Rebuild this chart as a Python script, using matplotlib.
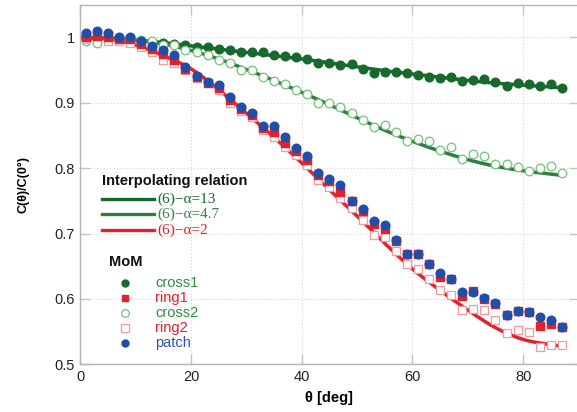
import numpy as np
import matplotlib
matplotlib.use("Agg")
import matplotlib.pyplot as plt

# ---- MoM samples: normalised capacitance vs incidence angle ----
theta = [1, 3, 5, 7, 9, 11, 13, 15, 17, 19, 21, 23, 25, 27, 29, 31, 33, 35, 37, 39, 41, 43,
         45, 47, 49, 51, 53, 55, 57, 59, 61, 63, 65, 67, 69, 71, 73, 75, 77, 79, 81, 83, 85, 87]

cross1 = [0.997, 0.998, 0.997, 0.998, 0.996, 0.995, 0.993, 0.992, 0.990, 0.989, 0.986, 0.986,
          0.982, 0.980, 0.977, 0.977, 0.978, 0.973, 0.971, 0.970, 0.967, 0.961, 0.961, 0.958,
          0.960, 0.952, 0.946, 0.947, 0.947, 0.945, 0.942, 0.940, 0.938, 0.939, 0.934, 0.935,
          0.937, 0.932, 0.926, 0.930, 0.928, 0.925, 0.928, 0.923]

cross2 = [0.994, 0.992, 0.996, 0.998, 0.998, 0.996, 0.994, 0.989, 0.989, 0.981, 0.977, 0.973,
          0.966, 0.961, 0.950, 0.950, 0.939, 0.934, 0.928, 0.920, 0.913, 0.900, 0.900, 0.893,
          0.885, 0.873, 0.863, 0.866, 0.855, 0.842, 0.845, 0.841, 0.828, 0.832, 0.814, 0.822,
          0.818, 0.806, 0.806, 0.802, 0.796, 0.800, 0.804, 0.792]

ring1 = [1.000, 1.002, 1.001, 0.998, 0.997, 0.990, 0.983, 0.975, 0.965, 0.952, 0.939, 0.930,
         0.922, 0.905, 0.891, 0.881, 0.861, 0.856, 0.838, 0.826, 0.813, 0.790, 0.780, 0.763,
         0.749, 0.734, 0.714, 0.707, 0.689, 0.668, 0.668, 0.653, 0.633, 0.630, 0.605, 0.612,
         0.600, 0.592, 0.575, 0.581, 0.580, 0.558, 0.561, 0.557]

ring2 = [0.998, 1.002, 0.994, 0.994, 0.991, 0.986, 0.978, 0.966, 0.961, 0.950, 0.938, 0.930,
         0.919, 0.899, 0.888, 0.879, 0.859, 0.848, 0.833, 0.820, 0.805, 0.782, 0.771, 0.754,
         0.739, 0.720, 0.698, 0.694, 0.674, 0.653, 0.645, 0.631, 0.613, 0.606, 0.583, 0.585,
         0.583, 0.567, 0.548, 0.552, 0.550, 0.527, 0.530, 0.529]

patch = [1.006, 1.010, 1.007, 1.001, 1.000, 0.994, 0.987, 0.980, 0.973, 0.954, 0.941, 0.932,
         0.927, 0.909, 0.894, 0.884, 0.865, 0.865, 0.847, 0.831, 0.818, 0.793, 0.784, 0.775,
         0.750, 0.737, 0.719, 0.713, 0.690, 0.668, 0.668, 0.653, 0.639, 0.631, 0.611, 0.611,
         0.601, 0.593, 0.576, 0.581, 0.580, 0.573, 0.568, 0.557]

# ---- interpolating relation (6) for three alpha values ----
theta_fit = [0, 5, 10, 15, 20, 25, 30, 35, 40, 45, 50, 55, 60, 65, 70, 75, 80, 85, 87]
fit_a13 = [1.000, 0.999, 0.996, 0.992, 0.987, 0.982, 0.977, 0.972, 0.967, 0.961, 0.955,
           0.949, 0.944, 0.939, 0.934, 0.930, 0.927, 0.924, 0.923]
fit_a47 = [1.000, 0.999, 0.996, 0.990, 0.980, 0.967, 0.951, 0.934, 0.916, 0.897, 0.877,
           0.858, 0.841, 0.826, 0.813, 0.803, 0.796, 0.791, 0.789]
fit_a2 = [1.000, 0.998, 0.988, 0.972, 0.952, 0.920, 0.884, 0.847, 0.808, 0.767, 0.727,
          0.685, 0.646, 0.613, 0.583, 0.556, 0.538, 0.530, 0.528]

fit_labels = ["(6)\u2212\u03b1=13", "(6)\u2212\u03b1=4.7", "(6)\u2212\u03b1=2"]
mom_labels = ["cross1", "ring1", "cross2", "ring2", "patch"]

x_ticks = [0, 20, 40, 60, 80]
y_ticks = [0.5, 0.6, 0.7, 0.8, 0.9, 1.0]
y_ticklabels = ["0.5", "0.6", "0.7", "0.8", "0.9", "1"]

DARK_GREEN = "#17692e"
MID_GREEN = "#2f7d43"
LIGHT_GREEN = "#72c278"
TXT_GREEN = "#2f8c42"
RED = "#e5202a"
PINK = "#f29a9c"
BLUE = "#1f4fa6"


def smooth(xs, ys, n=20):
    """Catmull-Rom spline through the given points."""
    xs = np.asarray(xs, float)
    ys = np.asarray(ys, float)
    px = np.concatenate([[2 * xs[0] - xs[1]], xs, [2 * xs[-1] - xs[-2]]])
    py = np.concatenate([[2 * ys[0] - ys[1]], ys, [2 * ys[-1] - ys[-2]]])
    ox, oy = [], []
    t = np.linspace(0, 1, n, endpoint=False)
    for i in range(1, len(px) - 2):
        for arr, out in ((px, ox), (py, oy)):
            p0, p1, p2, p3 = arr[i - 1], arr[i], arr[i + 1], arr[i + 2]
            out.extend(0.5 * (2 * p1 + (-p0 + p2) * t
                              + (2 * p0 - 5 * p1 + 4 * p2 - p3) * t ** 2
                              + (-p0 + 3 * p1 - 3 * p2 + p3) * t ** 3))
    ox.append(xs[-1])
    oy.append(ys[-1])
    return np.array(ox), np.array(oy)


plt.rcParams["font.family"] = ["Liberation Sans", "DejaVu Sans"]

W, H = 577, 412
fig = plt.figure(figsize=(W / 100, H / 100), dpi=100)
ax = fig.add_axes([80.3 / W, (H - 364.3) / H, (578.5 - 80.3) / W, (364.3 - 4.7) / H])

# fitted curves
for ys, col in ((fit_a13, DARK_GREEN), (fit_a47, MID_GREEN), (fit_a2, RED)):
    sx, sy = smooth(theta_fit, ys)
    ax.plot(sx, sy, color=col, lw=2.5, zorder=2, solid_capstyle="round")

ms = 6.2
ax.plot(theta, cross1, "o", color=DARK_GREEN, ms=ms, mec=DARK_GREEN, zorder=3)
ax.plot(theta, cross2, "o", mfc="white", mec=LIGHT_GREEN, mew=0.9, ms=ms, zorder=3)
ax.plot(theta, ring2, "s", mfc="white", mec=PINK, mew=0.9, ms=ms, zorder=4)
ax.plot(theta, ring1, "s", color=RED, ms=ms - 0.3, zorder=5)
ax.plot(theta, patch, "o", color=BLUE, ms=ms, zorder=6)

ax.set_xlim(0, 90)
ax.set_ylim(0.5, 1.05)
ax.set_xticks(x_ticks)
ax.set_yticks(y_ticks)
ax.set_yticklabels(y_ticklabels)
ax.grid(True, color="#d6d6d6", linestyle=(0, (1, 2)), linewidth=0.8)
ax.set_axisbelow(True)
for s in ax.spines.values():
    s.set_color("#b5b5b5")
    s.set_linewidth(1.0)
ax.tick_params(direction="in", length=7, width=1.0, color="#c4c4c4",
               top=True, right=True, labelsize=10.5, labelcolor="#222222", pad=4)

ax.set_xlabel("\u03b8 [deg]", fontsize=10.5, fontweight="bold", labelpad=5)
ax.set_ylabel("C(\u03b8)/C(0\u00b0)", fontsize=9, fontweight="bold", labelpad=18)

# legend block: interpolating relation
def px2data(x, y):
    return (x - 80.3) / (578.5 - 80.3) * 90, 1.0 - (y - 37.5) / 654.0

tx, ty = px2data(102, 181)
ax.text(tx, ty, "Interpolating relation", fontsize=10.5, fontweight="bold",
        color="#111111", va="center", ha="left", zorder=7)
line_y = [199.5, 214.5, 230.0]
line_cols = [DARK_GREEN, MID_GREEN, RED]
text_cols = [DARK_GREEN, "#3c8050", RED]
for lbl, yy, lc, tc in zip(fit_labels, line_y, line_cols, text_cols):
    x0, y0 = px2data(102, yy)
    x1, _ = px2data(154, yy)
    ax.plot([x0, x1], [y0, y0], color=lc, lw=2.4, zorder=7)
    x2, _ = px2data(157, yy)
    ax.text(x2, y0, lbl, family=["Liberation Serif", "DejaVu Serif"], fontsize=11,
            color=tc, va="center", ha="left", zorder=7)

# legend block: MoM
mx, my = px2data(109, 262)
ax.text(mx, my, "MoM", fontsize=10.5, fontweight="bold", color="#111111",
        va="center", ha="left", zorder=7)
mark_y = [283.0, 298.0, 313.5, 328.5, 343.5]
mark_styles = [
    dict(marker="o", color=DARK_GREEN, ms=5),
    dict(marker="s", color=RED, ms=5),
    dict(marker="o", mfc="white", mec=LIGHT_GREEN, mew=0.9, ms=5.5),
    dict(marker="s", mfc="white", mec=PINK, mew=0.9, ms=5.5),
    dict(marker="o", color=BLUE, ms=5),
]
label_cols = [TXT_GREEN, RED, TXT_GREEN, RED, "#2a56b0"]
for lbl, yy, st, lc in zip(mom_labels, mark_y, mark_styles, label_cols):
    x0, y0 = px2data(125, yy)
    ax.plot([x0], [y0], linestyle="none", zorder=7, **st)
    x1, _ = px2data(155, yy)
    ax.text(x1, y0, lbl, fontsize=10.5, color=lc, va="center", ha="left", zorder=7)

fig.savefig("out.png", dpi=100)
